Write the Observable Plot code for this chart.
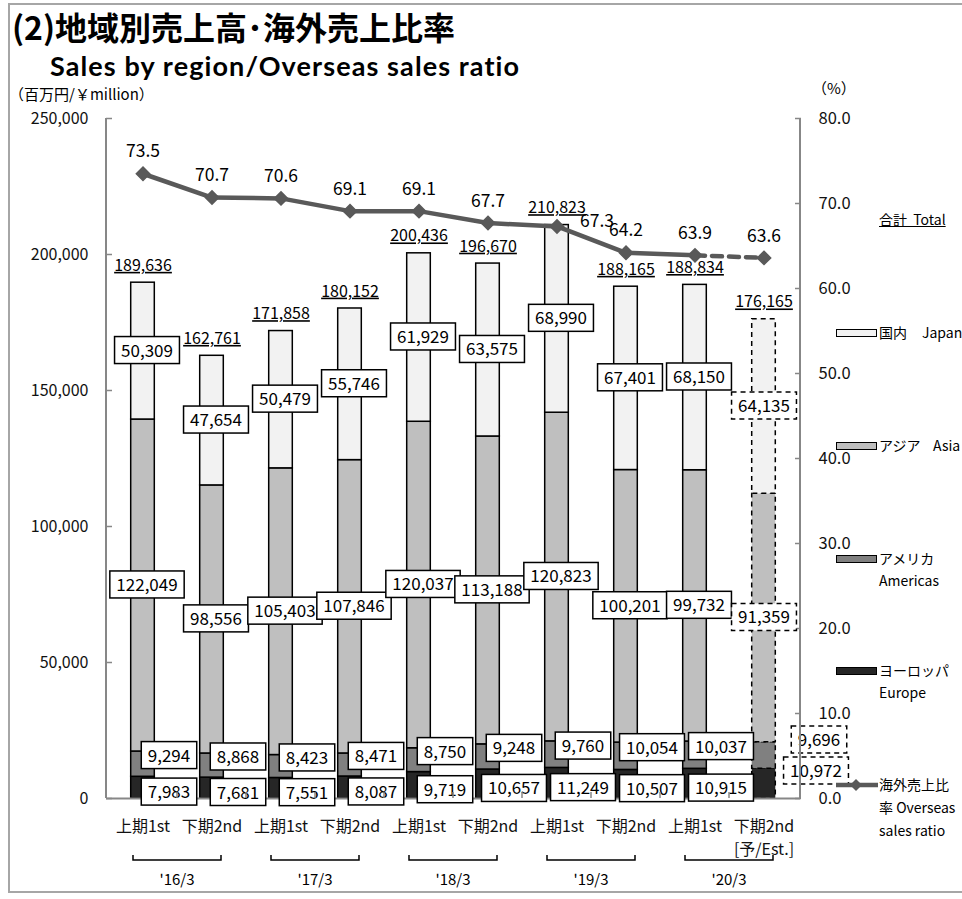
<!DOCTYPE html>
<html><head><meta charset="utf-8">
<script src="https://cdn.jsdelivr.net/npm/d3@7"></script>
<script src="https://cdn.jsdelivr.net/npm/@observablehq/plot@0.6"></script>
<style>
body{margin:0;background:#fff;}
#wrap{position:relative;width:962px;height:899px;overflow:hidden;font-family:"Noto Sans CJK JP",sans-serif;color:#000;}
#wrap svg{position:absolute;left:0;top:0;}
.abs{position:absolute;white-space:nowrap;}
.frame{position:absolute;left:8px;top:3px;width:980px;height:886px;border:2px solid #a6a6a6;}
.sw{position:absolute;width:39px;height:6px;border:1.5px solid #000;}
</style></head>
<body><div id="wrap"><div class="frame"></div></div>
<script>
// ---------- data ----------
const periods = ["FY16-1H","FY16-2H","FY17-1H","FY17-2H","FY18-1H","FY18-2H","FY19-1H","FY19-2H","FY20-1H","FY20-2H"];
const halfLabels = ["上期1st","下期2nd","上期1st","下期2nd","上期1st","下期2nd","上期1st","下期2nd","上期1st","下期2nd\n[予/Est.]"];
const fyLabels = ["'16/3","'17/3","'18/3","'19/3","'20/3"];
const regionNames = ["Europe","Americas","Asia","Japan"];
const japan    = [50309,47654,50479,55746,61929,63575,68990,67401,68150,64135];
const asia     = [122049,98556,105403,107846,120037,113188,120823,100201,99732,91359];
const americas = [9294,8868,8423,8471,8750,9248,9760,10054,10037,9696];
const europe   = [7983,7681,7551,8087,9719,10657,11249,10507,10915,10972];
const totals   = [189636,162761,171858,180152,200436,196670,210823,188165,188834,176165];
const ratio    = [73.5,70.7,70.6,69.1,69.1,67.7,67.3,64.2,63.9,63.6];
const leftTicks  = [0,50000,100000,150000,200000,250000];
const rightTicks = [0,10,20,30,40,50,60,70,80];

// ---------- derived ----------
const regionColors = ["#262626","#808080","#bfbfbf","#f2f2f2"];
const series = {Europe: europe, Americas: americas, Asia: asia, Japan: japan};
const K = 250000 / 80; // right axis (%) mapped onto left scale
const rows = [];
periods.forEach((p, i) => {
  let base = 0;
  regionNames.forEach(r => {
    const v = series[r][i];
    rows.push({period: p, i, region: r, value: v, mid: base + v / 2});
    base += v;
  });
});
const totalRows = periods.map((p, i) => ({period: p, i, total: totals[i]}));
const ratioRows = periods.map((p, i) => ({period: p, i, ratio: ratio[i]}));
const fmt = d3.format(",");
const NUMFONT = "Noto Sans CJK JP";
const last = periods.length - 1;
const isLast = d => d.i === last;
const notLast = d => d.i !== last;
const inJA = d => d.region === "Japan" || d.region === "Asia";
// marker fills (near-black) used to find the label groups afterwards
const BOX = "#010101", BOXEST = "#020202", TOT = "#030303";
const LFS = 17;

const chart = Plot.plot({
  width: 962, height: 899,
  marginLeft: 106, marginRight: 162, marginTop: 118, marginBottom: 101,
  style: {background: "transparent", fontFamily: "'Noto Sans CJK JP', sans-serif", fontSize: "16px", color: "#000", overflow: "visible"},
  x: {type: "band", domain: periods, padding: 0, axis: null, label: null},
  y: {domain: [0, 250000], axis: null, label: null},
  color: {domain: regionNames, range: regionColors},
  marks: [
    Plot.axisY({anchor: "left", ticks: leftTicks, tickSize: -6, tickPadding: 24, tickFormat: fmt, label: null,
      stroke: "#878787", strokeWidth: 1.5, fontSize: 16, fontFamily: NUMFONT, fill: "#111"}),
    Plot.axisY({anchor: "right", ticks: rightTicks.map(v => v * K), tickSize: -6, tickPadding: 24, label: null,
      tickFormat: d => (d / K).toFixed(1), stroke: "#878787", strokeWidth: 1.5, fontSize: 16.5, fontFamily: NUMFONT, fill: "#111"}),
    Plot.axisX({anchor: "bottom", tickSize: 0, tickPadding: 18, lineHeight: 1.4, label: null,
      tickFormat: d => halfLabels[periods.indexOf(d)], fontSize: 16, fontFamily: NUMFONT, fill: "#111"}),
    Plot.barY(rows.filter(notLast), {x: "period", y: "value", fill: "region", order: regionNames,
      stroke: "#000", strokeWidth: 1.5, insetLeft: 22.7, insetRight: 22.7}),
    Plot.barY(rows.filter(isLast), {x: "period", y: "value", fill: "region", order: regionNames,
      stroke: "#000", strokeWidth: 1.5, strokeDasharray: "5,4", insetLeft: 22.7, insetRight: 22.7}),
    Plot.ruleY([0], {stroke: "#878787", strokeWidth: 2}),
    // segment labels
    Plot.text(rows.filter(d => notLast(d) && inJA(d)), {x: "period", y: "mid", text: d => fmt(d.value), dx: 4,
      fontSize: LFS, fontFamily: NUMFONT, fill: BOX}),
    Plot.text(rows.filter(d => notLast(d) && d.region === "Americas"), {x: "period", y: "mid", text: d => fmt(d.value), dx: 26, dy: -8,
      fontSize: LFS, fontFamily: NUMFONT, fill: BOX}),
    Plot.text(rows.filter(d => notLast(d) && d.region === "Europe"), {x: "period", y: "mid", text: d => fmt(d.value), dx: 26, dy: 5,
      fontSize: LFS, fontFamily: NUMFONT, fill: BOX}),
    Plot.text(rows.filter(d => isLast(d) && inJA(d)), {x: "period", y: "mid", text: d => fmt(d.value), dx: 0,
      fontSize: LFS, fontFamily: NUMFONT, fill: BOXEST}),
    Plot.text(rows.filter(d => isLast(d) && d.region === "Americas"), {x: "period", y: "mid", text: d => fmt(d.value), dx: 55, dy: -15,
      fontSize: LFS, fontFamily: NUMFONT, fill: BOXEST}),
    Plot.text(rows.filter(d => isLast(d) && d.region === "Europe"), {x: "period", y: "mid", text: d => fmt(d.value), dx: 52, dy: -12,
      fontSize: LFS, fontFamily: NUMFONT, fill: BOXEST}),
    // totals
    Plot.text(totalRows, {x: "period", y: "total", text: d => fmt(d.total), dy: -17,
      fontSize: 16, fontFamily: NUMFONT, fill: TOT}),
    // overseas ratio line
    Plot.line(ratioRows.filter(d => d.i <= last - 1), {x: "period", y: d => d.ratio * K, stroke: "#595959", strokeWidth: 4.5}),
    Plot.line(ratioRows.filter(d => d.i >= last - 1), {x: "period", y: d => d.ratio * K, stroke: "#595959", strokeWidth: 4.5, strokeDasharray: "10,7"}),
    Plot.dot(ratioRows, {x: "period", y: d => d.ratio * K, symbol: "diamond2", r: 6, fill: "#595959", stroke: "#595959"}),
    Plot.text(ratioRows.filter(d => d.i !== 6), {x: "period", y: d => d.ratio * K, text: d => d.ratio.toFixed(1), dy: -22,
      fontSize: 17.5, fontFamily: NUMFONT, fill: "#000"}),
    Plot.text(ratioRows.filter(d => d.i === 6), {x: "period", y: d => d.ratio * K, text: d => d.ratio.toFixed(1), dx: 40, dy: -5,
      fontSize: 17.5, fontFamily: NUMFONT, fill: "#000"})
  ]
});

const wrap = document.getElementById("wrap");
wrap.prepend(chart);

// ---------- decorations using the chart's scales ----------
const svg = d3.select(chart);
const xs = chart.scale("x"), ys = chart.scale("y");
const bw = xs.bandwidth;
const [xL, xR] = xs.range;
const y0 = ys.apply(0), yTop = ys.apply(250000);
const deco = svg.append("g");
deco.append("line").attr("x1", xL).attr("x2", xL).attr("y1", yTop).attr("y2", y0).attr("stroke", "#878787").attr("stroke-width", 2);
deco.append("line").attr("x1", xR).attr("x2", xR).attr("y1", yTop).attr("y2", y0).attr("stroke", "#878787").attr("stroke-width", 2);
periods.slice(1).forEach(p => {
  const x = xs.apply(p);
  deco.append("line").attr("x1", x).attr("x2", x).attr("y1", y0).attr("y2", y0 - 6).attr("stroke", "#878787").attr("stroke-width", 1.5);
});
fyLabels.forEach((lab, k) => {
  const m = xs.apply(periods[2 * k]) + bw;
  deco.append("path").attr("d", `M${m - 44},${y0 + 57}V${y0 + 62}H${m + 44}V${y0 + 57}`)
    .attr("fill", "none").attr("stroke", "#000").attr("stroke-width", 1.5);
  deco.append("text").attr("x", m).attr("y", y0 + 82).attr("dy", "0.35em").attr("text-anchor", "middle")
    .attr("font-size", 15).attr("font-family", NUMFONT).text(lab);
});

// boxes behind segment labels
function boxify(fillCode, dashed) {
  chart.querySelectorAll(`g[fill="${fillCode}"]`).forEach(g => {
    g.setAttribute("fill", "#000");
    Array.from(g.querySelectorAll("text")).forEach(t => {
      const b = t.getBBox();
      const cy = b.y + b.height / 2 + 1;
      const r = document.createElementNS("http://www.w3.org/2000/svg", "rect");
      r.setAttribute("x", b.x - 6.5);
      r.setAttribute("y", cy - 13.5);
      r.setAttribute("width", b.width + 13);
      r.setAttribute("height", 27);
      r.setAttribute("fill", "#fff");
      r.setAttribute("stroke", "#000");
      r.setAttribute("stroke-width", 1.5);
      if (dashed) r.setAttribute("stroke-dasharray", "5,4");
      if (t.getAttribute("transform")) r.setAttribute("transform", t.getAttribute("transform"));
      g.insertBefore(r, t);
    });
  });
}
boxify(BOX, false);
boxify(BOXEST, true);
chart.querySelectorAll(`g[fill="${TOT}"]`).forEach(g => {
  g.setAttribute("fill", "#000");
  g.querySelectorAll("text").forEach(t => t.setAttribute("text-decoration", "underline"));
});

// ---------- HTML titles & legend ----------
function place(txt, left, cy, fs, extra) {
  const d = document.createElement("div");
  d.className = "abs";
  d.textContent = txt;
  d.style.left = left + "px";
  d.style.fontSize = fs + "px";
  d.style.lineHeight = fs + "px";
  d.style.top = (cy - 0.56 * fs) + "px";
  if (extra) Object.assign(d.style, extra);
  wrap.appendChild(d);
  return d;
}
place("(2)地域別売上高･海外売上比率", 12, 26, 32, {fontWeight: "bold", lineHeight: "46px", top: "3px"});
place("Sales by region/Overseas sales ratio", 50, 66, 27, {fontWeight: "bold", fontFamily: "Lato", letterSpacing: "1.1px", lineHeight: "32px", top: "50px"});
place("（百万円/￥million）", 9, 93, 15, {lineHeight: "22px", top: "82.5px"});
place("（%）", 812, 88, 15);
place("合計", 879, 220, 14, {textDecoration: "underline"});
place("\u00a0\u00a0Total", 907, 220, 14, {textDecoration: "underline"});
const swatches = [
  {c: regionColors[3], y: 333, l1: "国内", l1b: "Japan"},
  {c: regionColors[2], y: 446, l1: "アジア", l1b: "Asia"},
  {c: regionColors[1], y: 559, l1: "アメリカ", l2: "Americas"},
  {c: regionColors[0], y: 671, l1: "ヨーロッパ", l2: "Europe"}
];
swatches.forEach(s => {
  const d = document.createElement("div");
  d.className = "sw";
  d.style.left = "836px"; d.style.top = (s.y - 4.5) + "px"; d.style.background = s.c;
  wrap.appendChild(d);
  place(s.l1, 879, s.y, 14);
  if (s.l1b) place(s.l1b, s.l1b === "Asia" ? 933 : 922, s.y, 14);
  if (s.l2) place(s.l2, 879, s.y + 22, 14);
});
const lg = document.createElementNS("http://www.w3.org/2000/svg", "svg");
lg.setAttribute("width", 46); lg.setAttribute("height", 16);
lg.style.position = "absolute"; lg.style.left = "834px"; lg.style.top = "777px";
lg.innerHTML = '<line x1="2" y1="8" x2="44" y2="8" stroke="#595959" stroke-width="4.5"/><path d="M22,2L28,8L22,14L16,8Z" fill="#595959"/>';
wrap.appendChild(lg);
place("海外売上比", 879, 785, 14);
place("率 Overseas", 879, 808, 14);
place("sales ratio", 879, 831, 14);
</script>
</body></html>
